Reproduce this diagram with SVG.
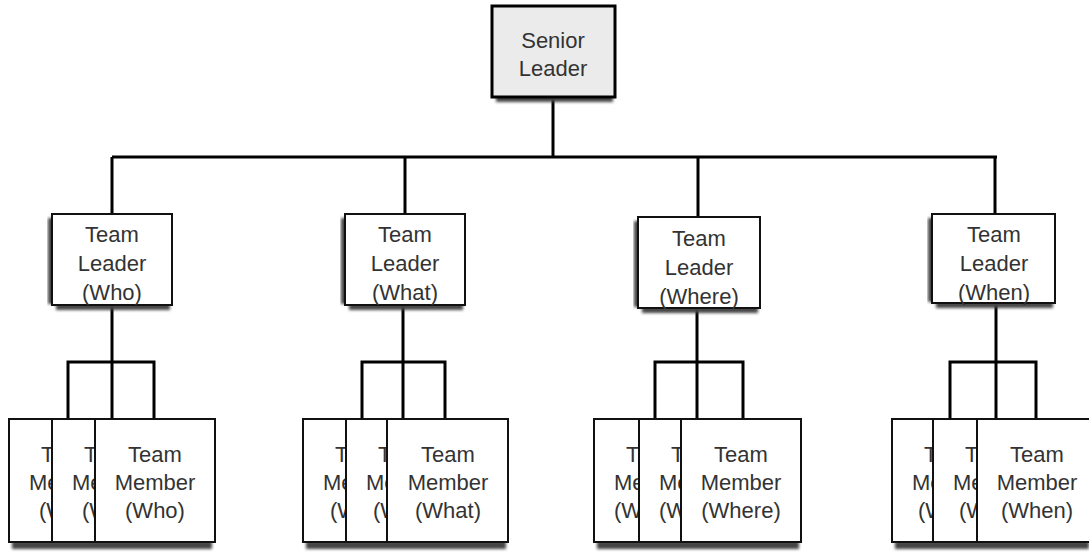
<svg xmlns="http://www.w3.org/2000/svg" width="1089" height="552" viewBox="0 0 1089 552">
<defs>
<style>
.box{fill:#fff;stroke:#111;stroke-width:2}
.sbox{fill:#ebebeb;stroke:#000;stroke-width:3}
.sh{fill:#444}
.t{font-family:"Liberation Sans",Arial,sans-serif;font-size:22px;fill:#333;text-anchor:middle}
.p{font-family:"Liberation Sans",Arial,sans-serif;font-size:22px;fill:#333;text-anchor:start}
.c{fill:none;stroke:#000;stroke-width:3}
</style>
<filter id="bl" x="-10%" y="-100%" width="120%" height="300%"><feGaussianBlur stdDeviation="1.5"/></filter>
</defs>
<rect width="1089" height="552" fill="#fff"/>
<g id="connectors">
<path class="c" d="M553 99V157M112 157H997M112 157V214M405 157V214M698 157V217M995 157V214"/>
<path class="c" d="M112 305V419M68 419V362H154V419"/>
<path class="c" d="M403 305V419M362 419V362H445V419"/>
<path class="c" d="M697 308V419M655 419V362H743V419"/>
<path class="c" d="M996 303V419M950 419V362H1036V419"/>
</g>
<g id="senior">
<rect class="sh" x="496" y="96" width="117" height="6" filter="url(#bl)"/>
<rect class="sbox" x="492" y="6" width="123" height="91"/>
<text class="t" x="553" y="48">Senior</text>
<text class="t" x="553" y="76">Leader</text>
</g>
<g id="leader-who">
<rect class="sh" x="48" y="218" width="6" height="86" filter="url(#bl)"/>
<rect class="sh" x="56" y="304" width="114" height="6" filter="url(#bl)"/>
<rect class="box" x="52" y="214" width="120" height="91"/>
<text class="t" x="112" y="242">Team</text>
<text class="t" x="112" y="271">Leader</text>
<text class="t" x="112" y="300">(Who)</text>
</g>
<g id="leader-what">
<rect class="sh" x="341" y="218" width="6" height="86" filter="url(#bl)"/>
<rect class="sh" x="349" y="304" width="114" height="6" filter="url(#bl)"/>
<rect class="box" x="345" y="214" width="120" height="91"/>
<text class="t" x="405" y="242">Team</text>
<text class="t" x="405" y="271">Leader</text>
<text class="t" x="405" y="300">(What)</text>
</g>
<g id="leader-where">
<rect class="sh" x="634" y="221" width="6" height="86" filter="url(#bl)"/>
<rect class="sh" x="642" y="307" width="116" height="6" filter="url(#bl)"/>
<rect class="box" x="638" y="217" width="122" height="91"/>
<text class="t" x="699" y="246">Team</text>
<text class="t" x="699" y="275">Leader</text>
<text class="t" x="699" y="304">(Where)</text>
</g>
<g id="leader-when">
<rect class="sh" x="928" y="218" width="6" height="84" filter="url(#bl)"/>
<rect class="sh" x="936" y="302" width="117" height="6" filter="url(#bl)"/>
<rect class="box" x="932" y="214" width="123" height="89"/>
<text class="t" x="994" y="242">Team</text>
<text class="t" x="994" y="271">Leader</text>
<text class="t" x="994" y="300">(When)</text>
</g>
<g id="members-who">
<rect class="sh" x="12" y="541" width="200" height="8" filter="url(#bl)"/>
<rect class="box" x="9" y="419" width="120" height="123"/>
<text class="p" x="41" y="462">T</text><text class="p" x="29" y="490">Me</text><text class="p" x="39" y="518">(W</text>
<rect class="box" x="52" y="419" width="120" height="123"/>
<text class="p" x="84" y="462">T</text><text class="p" x="72" y="490">Me</text><text class="p" x="82" y="518">(W</text>
<rect class="box" x="95" y="419" width="120" height="123"/>
<text class="t" x="155" y="462">Team</text><text class="t" x="155" y="490">Member</text><text class="t" x="155" y="518">(Who)</text>
</g>
<g id="members-what">
<rect class="sh" x="306" y="541" width="200" height="8" filter="url(#bl)"/>
<rect class="box" x="303" y="419" width="120" height="123"/>
<text class="p" x="335" y="462">T</text><text class="p" x="323" y="490">Me</text><text class="p" x="330" y="518">(W</text>
<rect class="box" x="346" y="419" width="120" height="123"/>
<text class="p" x="378" y="462">T</text><text class="p" x="366" y="490">Me</text><text class="p" x="373" y="518">(W</text>
<rect class="box" x="387" y="419" width="121" height="123"/>
<text class="t" x="448" y="462">Team</text><text class="t" x="448" y="490">Member</text><text class="t" x="448" y="518">(What)</text>
</g>
<g id="members-where">
<rect class="sh" x="597" y="541" width="202" height="8" filter="url(#bl)"/>
<rect class="box" x="594" y="419" width="120" height="123"/>
<text class="p" x="626" y="462">T</text><text class="p" x="614" y="490">Me</text><text class="p" x="614" y="518">(W</text>
<rect class="box" x="639" y="419" width="120" height="123"/>
<text class="p" x="671" y="462">T</text><text class="p" x="659" y="490">Me</text><text class="p" x="659" y="518">(W</text>
<rect class="box" x="681" y="419" width="120" height="123"/>
<text class="t" x="741" y="462">Team</text><text class="t" x="741" y="490">Member</text><text class="t" x="741" y="518">(Where)</text>
</g>
<g id="members-when">
<rect class="sh" x="895" y="541" width="194" height="8" filter="url(#bl)"/>
<rect class="box" x="892" y="419" width="120" height="123"/>
<text class="p" x="924" y="462">T</text><text class="p" x="912" y="490">Me</text><text class="p" x="918" y="518">(W</text>
<rect class="box" x="933" y="419" width="120" height="123"/>
<text class="p" x="965" y="462">T</text><text class="p" x="953" y="490">Me</text><text class="p" x="959" y="518">(W</text>
<rect class="box" x="977" y="419" width="120" height="123"/>
<text class="t" x="1037" y="462">Team</text><text class="t" x="1037" y="490">Member</text><text class="t" x="1037" y="518">(When)</text>
</g>
</svg>
